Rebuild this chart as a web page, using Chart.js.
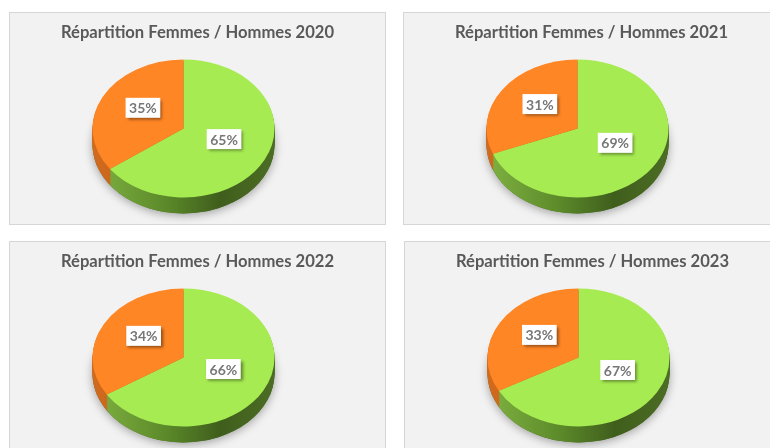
<!DOCTYPE html>
<html>
<head>
<meta charset="utf-8">
<script src="https://cdn.jsdelivr.net/npm/chart.js@4.4.1/dist/chart.umd.min.js"></script>
<style>
  body { margin: 0; background: #fff; width: 770px; height: 448px; overflow: hidden; position: relative; }
  .panel { position: absolute; width: 375px; height: 211px; background: #f2f2f2; border: 1px solid #d6d6d6; }
  canvas { display: block; }
</style>
</head>
<body>
<div class="panel" style="left:9px;top:12px"><canvas id="c0"></canvas></div>
<div class="panel" style="left:403px;top:12px"><canvas id="c1"></canvas></div>
<div class="panel" style="left:9px;top:241px"><canvas id="c2"></canvas></div>
<div class="panel" style="left:404px;top:241px"><canvas id="c3"></canvas></div>
<script>
const years = ['2020', '2021', '2022', '2023'];
const categories = ['Femmes', 'Hommes'];
const femmes = [65, 69, 66, 67];
const hommes = [35, 31, 34, 33];

const topColors = ['#a6eb52', '#ff8625'];
const TILT = 0.758;   // vertical squash of the pie
const DEPTH = 16;     // thickness of the side, in pixels
const SHIFT_X = -14;  // pie sits left of the panel centre

// Side wall gradient (lighter on the left, dark on the right)
function sideFill(ctx, x, r, idx) {
    const g = ctx.createLinearGradient(x - r, 0, x + r, 0);
    if (idx === 0) {
        g.addColorStop(0, '#7fb141');
        g.addColorStop(0.4, '#5c8a2a');
        g.addColorStop(0.7, '#3f5e1c');
        g.addColorStop(1, '#4c6d24');
    } else {
        g.addColorStop(0, '#d06a1e');
        g.addColorStop(1, '#a04d12');
    }
    return g;
}

function sectorPath(ctx, a, dy) {
    ctx.beginPath();
    ctx.moveTo(a.x, a.y + dy);
    ctx.arc(a.x, a.y + dy, a.outerRadius, a.startAngle, a.endAngle);
    ctx.closePath();
}

// Squash the pie and extrude it downwards, then draw the value boxes
const pie3d = {
    id: 'pie3d',
    beforeDatasetsDraw(chart) {
        const ctx = chart.ctx;
        const arcs = chart.getDatasetMeta(0).data;
        const {x, y, outerRadius} = arcs[0];
        ctx.save();
        ctx.translate(x + SHIFT_X, y);
        ctx.scale(1, TILT);
        ctx.translate(-x, -y);

        // soft shadow under the pie
        ctx.save();
        ctx.shadowColor = 'rgba(0,0,0,0.35)';
        ctx.shadowBlur = 10;
        ctx.shadowOffsetY = 2;
        ctx.fillStyle = '#4c6d24';
        ctx.beginPath();
        ctx.arc(x, y + DEPTH / TILT, outerRadius, 0, Math.PI * 2);
        ctx.fill();
        ctx.restore();

        for (let i = DEPTH; i >= 1; i--) {
            arcs.forEach((a, idx) => {
                ctx.fillStyle = sideFill(ctx, x, outerRadius, idx);
                sectorPath(ctx, a, i / TILT);
                ctx.fill();
            });
        }
    },
    afterDatasetsDraw(chart) {
        const ctx = chart.ctx;
        ctx.restore();
        const meta = chart.getDatasetMeta(0);
        const values = chart.data.datasets[0].data;
        const total = values.reduce((s, v) => s + v, 0);
        meta.data.forEach((a, i) => {
            const p = a.tooltipPosition();
            const px = p.x + SHIFT_X;
            const py = a.y + (p.y - a.y) * TILT - 5;
            const text = Math.round(values[i] / total * 100) + '%';
            ctx.save();
            ctx.font = 'bold 14px Lato';
            const w = ctx.measureText(text).width + 7;
            const h = 20;
            ctx.shadowColor = 'rgba(0,0,0,0.45)';
            ctx.shadowBlur = 3;
            ctx.shadowOffsetX = 2;
            ctx.shadowOffsetY = 2;
            ctx.fillStyle = '#ffffff';
            ctx.fillRect(px - w / 2, py - h / 2, w, h);
            ctx.restore();
            ctx.save();
            ctx.font = 'bold 14px Lato';
            ctx.fillStyle = '#777777';
            ctx.textAlign = 'center';
            ctx.textBaseline = 'middle';
            ctx.fillText(text, px, py + 1);
            ctx.restore();
        });
    }
};

function makeChart(i) {
    const canvas = document.getElementById('c' + i);
    return new Chart(canvas, {
        type: 'pie',
        data: {
            labels: categories,
            datasets: [{
                data: [femmes[i], hommes[i]],
                backgroundColor: topColors,
                borderWidth: 0,
                clip: false
            }]
        },
        options: {
            responsive: false,
            animation: false,
            events: [],
            radius: 91,
            layout: { padding: { left: 0, right: 0, top: 0, bottom: 10 } },
            plugins: {
                legend: { display: false },
                tooltip: { enabled: false },
                title: {
                    display: true,
                    text: 'Répartition Femmes / Hommes ' + years[i],
                    color: '#595959',
                    font: { family: 'Lato', size: 16.6, weight: 'bold', lineHeight: 1.2 },
                    padding: { top: 10, bottom: 0 }
                }
            }
        },
        plugins: [pie3d]
    });
}

document.querySelectorAll('canvas').forEach(c => {
    c.width = 375; c.height = 211;
    c.style.width = '375px'; c.style.height = '211px';
});
years.forEach((y, i) => makeChart(i));
</script>
</body>
</html>
